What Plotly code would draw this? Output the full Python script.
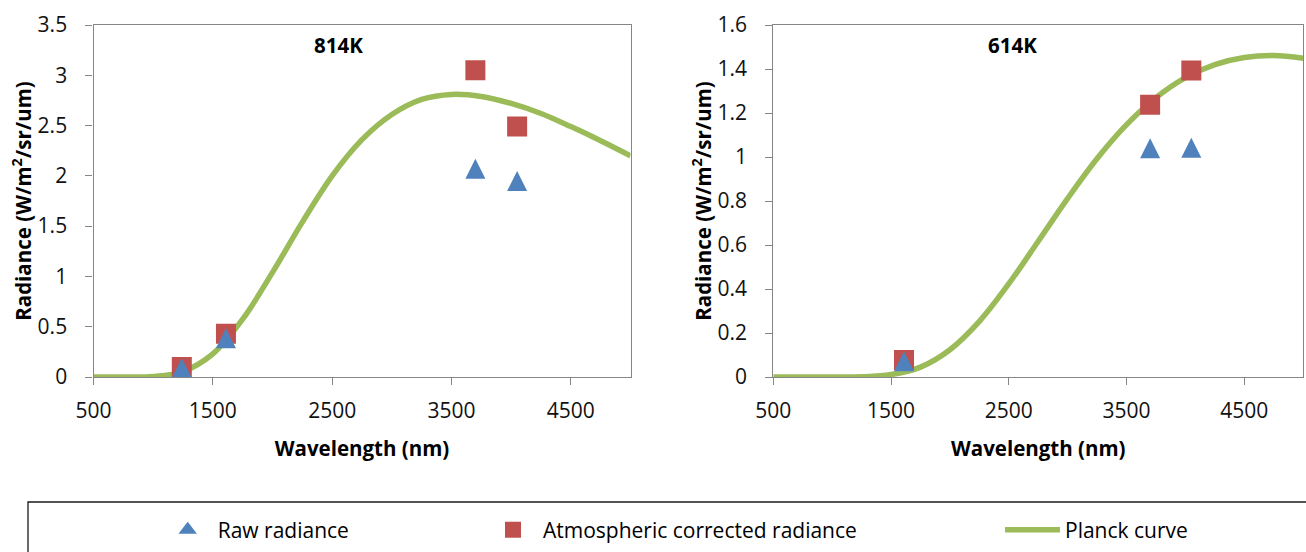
import plotly.graph_objects as go

# ---------------- data ----------------
wavelength_curve = [500, 750, 1000, 1250, 1500, 1750, 2000, 2250, 2500, 2750,
                    3000, 3250, 3500, 3750, 4000, 4250, 4500, 4750, 5000]
planck_814 = [0.0, 0.0, 0.005, 0.055, 0.23, 0.575, 1.04, 1.54, 2.0, 2.36,
              2.61, 2.76, 2.81, 2.79, 2.72, 2.62, 2.49, 2.35, 2.20]
planck_614 = [0.0, 0.0, 0.0, 0.001, 0.011, 0.045, 0.124, 0.253, 0.424, 0.617,
              0.812, 0.993, 1.147, 1.270, 1.361, 1.420, 1.452, 1.461, 1.449]

bands_814 = [1240, 1610, 3700, 4050]
raw_814 = [0.09, 0.385, 2.07, 1.95]
corr_814 = [0.10, 0.43, 3.05, 2.49]

bands_614 = [1610, 3700, 4050]
raw_614 = [0.072, 1.04, 1.042]
corr_614 = [0.077, 1.237, 1.393]

x_ticks = [500, 1500, 2500, 3500, 4500]
x_tick_text = ["500", "1500", "2500", "3500", "4500"]
y_ticks_814 = [0, 0.5, 1, 1.5, 2, 2.5, 3, 3.5]
y_text_814 = ["0", "0.5", "1", "1.5", "2", "2.5", "3", "3.5"]
y_ticks_614 = [0, 0.2, 0.4, 0.6, 0.8, 1, 1.2, 1.4, 1.6]
y_text_614 = ["0", "0.2", "0.4", "0.6", "0.8", "1", "1.2", "1.4", "1.6"]

panel_titles = ["814K", "614K"]
x_title = "Wavelength (nm)"
y_title = "Radiance (W/m<sup>2</sup>/sr/um)"
legend_names = ["Raw radiance", "Atmospheric corrected radiance", "Planck curve"]

# ---------------- styles ----------------
W, H = 1306, 552
FONT = "Open Sans"
BLUE = "#4F81BD"
RED = "#C0504D"
GREEN = "#9BBB59"
AXIS = "#868686"

fig = go.Figure()

def add_panel(xa, ya, bands, raw, corr, curve):
    fig.add_trace(go.Scatter(x=wavelength_curve, y=curve, mode="lines",
                             line=dict(color=GREEN, width=5.5, shape="spline", smoothing=1.0),
                             xaxis=xa, yaxis=ya, showlegend=False, hoverinfo="skip"))
    fig.add_trace(go.Scatter(x=bands, y=corr, mode="markers",
                             marker=dict(symbol="square", size=20, color=RED),
                             xaxis=xa, yaxis=ya, showlegend=False))
    # up-pointing triangle, as wide as it is tall, centred on the data point
    fig.add_trace(go.Scatter(x=bands, y=raw, mode="markers",
                             marker=dict(symbol="arrow-down", size=20, color=BLUE,
                                         angle=180, standoff=10),
                             xaxis=xa, yaxis=ya, showlegend=False))

add_panel("x", "y", bands_814, raw_814, corr_814, planck_814)
add_panel("x2", "y2", bands_614, raw_614, corr_614, planck_614)

# legend-only entries
fig.add_trace(go.Scatter(x=[None], y=[None], mode="markers", name=legend_names[0],
                         marker=dict(symbol="triangle-up", size=16, color=BLUE),
                         legend="legend"))
fig.add_trace(go.Scatter(x=[None], y=[None], mode="markers", name=legend_names[1],
                         marker=dict(symbol="square", size=16, color=RED),
                         legend="legend2"))
fig.add_trace(go.Scatter(x=[None], y=[None], mode="lines", name=legend_names[2],
                         line=dict(color=GREEN, width=5.5),
                         legend="legend3"))

TITLE_FONT = dict(family=FONT, size=20.5, color="#000", weight="bold")

def xaxis(domain, anchor):
    return dict(domain=domain, range=[500, 5000], anchor=anchor, automargin=False,
                tickmode="array", tickvals=x_ticks, ticktext=x_tick_text,
                showline=True, linecolor=AXIS, linewidth=1.3, mirror=True,
                ticks="outside", ticklen=7, tickcolor=AXIS, tickwidth=1.3,
                ticklabelstandoff=8,
                showgrid=False, zeroline=False,
                title=dict(text=x_title, font=TITLE_FONT, standoff=18),
                tickfont=dict(family=FONT, size=21, color="#111"))

def yaxis(domain, anchor, rng, vals, text, standoff):
    return dict(domain=domain, range=rng, anchor=anchor, automargin=False,
                tickmode="array", tickvals=vals, ticktext=text,
                showline=True, linecolor=AXIS, linewidth=1.3, mirror=True,
                ticks="outside", ticklen=7, tickcolor=AXIS, tickwidth=1.3,
                ticklabelstandoff=14,
                showgrid=False, zeroline=False,
                title=dict(text=y_title, font=TITLE_FONT, standoff=standoff),
                tickfont=dict(family=FONT, size=21, color="#111"))

ydom = [1 - 377 / H, 1 - 25 / H]
xdom1 = [93.5 / W, 630.5 / W]
xdom2 = [773.3 / W, 1303.2 / W]

legend_common = dict(orientation="h", yanchor="middle", y=1 - 530 / H, xanchor="left",
                     bgcolor="rgba(0,0,0,0)", borderwidth=0,
                     font=dict(family=FONT, size=21, color="#000"))

fig.update_layout(
    width=W, height=H, autosize=False,
    margin=dict(l=0, r=0, t=0, b=0, pad=0),
    paper_bgcolor="white", plot_bgcolor="white",
    xaxis=xaxis(xdom1, "y"),
    yaxis=yaxis(ydom, "x", [0, 3.5], y_ticks_814, y_text_814, 0),
    xaxis2=xaxis(xdom2, "y2"),
    yaxis2=yaxis(ydom, "x2", [0, 1.6], y_ticks_614, y_text_614, 0),
    legend=dict(x=157.7 / W, itemwidth=50, **legend_common),
    legend2=dict(x=483 / W, itemwidth=50, **legend_common),
    legend3=dict(x=1000 / W, itemwidth=55, **legend_common),
    shapes=[dict(type="rect", xref="paper", yref="paper",
                 x0=28 / W, x1=1.02, y0=-0.1, y1=1 - 502 / H,
                 line=dict(color="#1a1a1a", width=1.3), fillcolor="rgba(0,0,0,0)")],
    annotations=[
        dict(text="<b>%s</b>" % panel_titles[0], x=338.5 / W, y=1 - 45 / H, xref="paper", yref="paper",
             showarrow=False, xanchor="center", yanchor="middle",
             font=dict(family=FONT, size=20.5, color="#000")),
        dict(text="<b>%s</b>" % panel_titles[1], x=1012 / W, y=1 - 45 / H, xref="paper", yref="paper",
             showarrow=False, xanchor="center", yanchor="middle",
             font=dict(family=FONT, size=20.5, color="#000")),
    ],
)

fig.write_html("out.html")
